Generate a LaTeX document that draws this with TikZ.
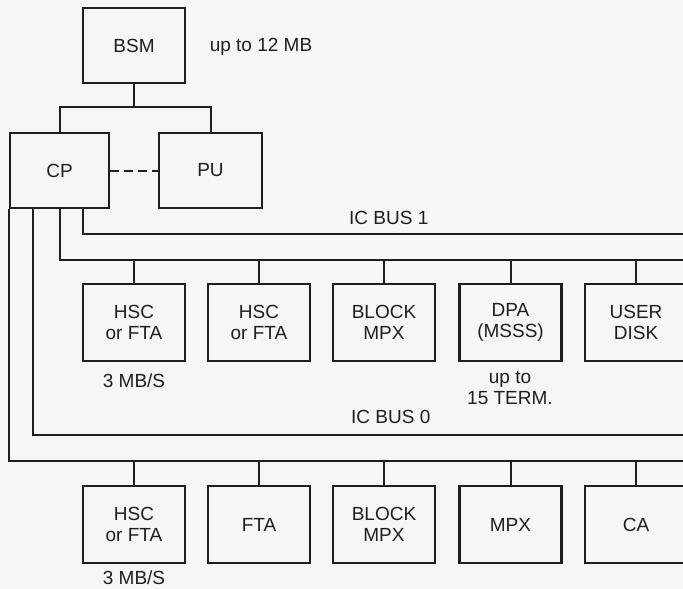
\documentclass[tikz,border=0pt]{standalone}
\usepackage{fontspec}
\setmainfont{Liberation Sans}
\usetikzlibrary{positioning,calc}
\definecolor{tinta}{RGB}{30,30,30}
\definecolor{fondo}{RGB}{246,246,244}
\tikzset{
  modulo/.style={draw=tinta, line width=2.2pt, minimum width=102, minimum height=77, align=center, inner sep=0pt, text=tinta},
  linea/.style={draw=tinta, line width=2pt},
  rotulo/.style={text=tinta, align=center, inner sep=0pt},
}

\begin{document}
\begin{tikzpicture}[x=1pt, y=-1pt, font=\fontsize{19}{21}\selectfont]
  \fill[fondo] (0,0) rectangle (683,589);
  \useasboundingbox (0,0) rectangle (683,589);
  % memoria y procesadores
  \node[modulo, minimum height=75] (bsm) at (134,45.5) {BSM};
  \node[rotulo] at (261,47) {up to 12 MB};
  \node[modulo, minimum width=99, minimum height=75] (cp) at (59.5,170.5) {CP};
  \node[modulo, minimum width=103, minimum height=75] (pu) at (210.5,170.5) {PU};
  \coordinate (jb) at (134,107);
  \draw[linea] (bsm.south) -- (jb);
  \draw[linea] (cp.north) |- (jb) -| (pu.north);
  \draw[linea, dash pattern=on 9pt off 5pt] (cp.east) -- (pu.west);
  % buses
  \coordinate (b1) at (690,234);
  \coordinate (b1m) at (690,260);
  \coordinate (b0) at (690,435);
  \coordinate (b0m) at (690,461);
  \draw[linea] ([xshift=74]cp.south west) |- (b1);
  \draw[linea] (cp.south) |- (b1m);
  \draw[linea] ([xshift=24]cp.south west) |- (b0);
  \draw[linea] (cp.south west) |- (b0m);
  \node[rotulo, anchor=west] at (349,218) {IC BUS 1};
  \node[rotulo, anchor=west] at (351,417) {IC BUS 0};
  % fila de IC BUS 1
  \node[modulo] (a1) at (134,322.5) {HSC\\or FTA};
  \node[modulo] (a2) at (259,322.5) {HSC\\or FTA};
  \node[modulo] (a3) at (384,322.5) {BLOCK\\MPX};
  \node[modulo] (a4) at (510.5,322.5) {DPA\\(MSSS)};
  \node[modulo] (a5) at (636,322.5) {USER\\DISK};
  \node[rotulo] at (134,381) {3 MB/S};
  \node[rotulo] at (510,388) {up to\\15 TERM.};
  % fila de IC BUS 0
  \node[modulo] (c1) at (134,524.5) {HSC\\or FTA};
  \node[modulo] (c2) at (259,524.5) {FTA};
  \node[modulo] (c3) at (384,524.5) {BLOCK\\MPX};
  \node[modulo] (c4) at (510.5,524.5) {MPX};
  \node[modulo] (c5) at (636,524.5) {CA};
  \node[rotulo] at (134,577.5) {3 MB/S};
  \foreach \m in {a1,a2,a3,a4,a5}
    \draw[linea] (\m.north) -- (\m.north |- b1m);
  \foreach \m in {c1,c2,c3,c4,c5}
    \draw[linea] (\m.north) -- (\m.north |- b0m);
\end{tikzpicture}
\end{document}
